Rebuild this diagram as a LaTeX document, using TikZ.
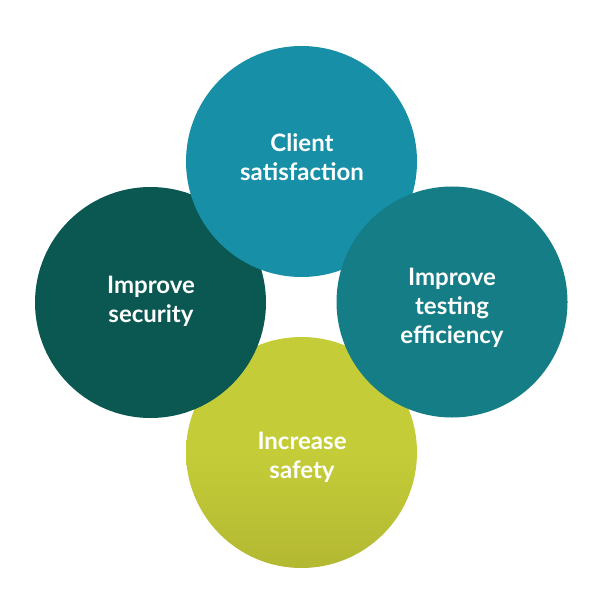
\documentclass[tikz,border=0pt]{standalone}
\usepackage{fontspec}
\setmainfont{Lato}[UprightFont=* Bold]
\begin{document}
\begin{tikzpicture}[x=1pt,y=-1pt,
  disc/.style={circle,minimum size=231pt,inner sep=0pt,draw=none},
  lbl/.style={text=white,align=center,font=\fontsize{24}{29}\selectfont}]
\useasboundingbox (0,0) rectangle (601,601);
\definecolor{ctop}{HTML}{178FA6}
\definecolor{cleft}{HTML}{0B5752}
\definecolor{cright}{HTML}{147D85}
\definecolor{cbotA}{HTML}{C4CD38}
\definecolor{cbotB}{HTML}{B3B832}
\node[disc,top color=cbotA,bottom color=cbotB,middle color=cbotA] (bot) at (301.5,452.5) {};
\node[disc,fill=cleft] (left) at (150.5,302.5) {};
\node[disc,fill=ctop] (top) at (301.5,161.5) {};
\node[disc,fill=cright] (right) at (452,302) {};
\node[lbl] (ttop) at (302,157) {Client\\satisfaction};
\node[lbl] (tleft) at (151,301) {Improve\\security};
\node[lbl] (tright) at (452,308) {Improve\\testing\\efficiency};
\node[lbl] (tbot) at (302,457) {Increase\\safety};
\end{tikzpicture}
\end{document}
